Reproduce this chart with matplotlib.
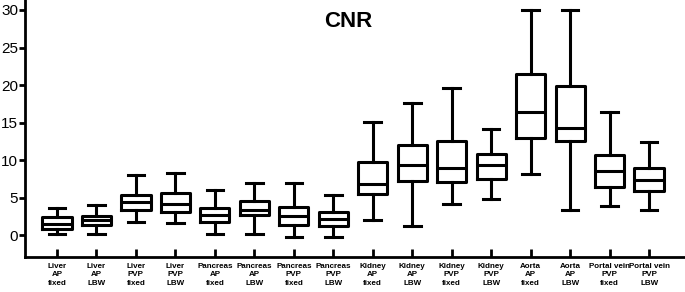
import matplotlib
matplotlib.use("Agg")
from matplotlib import pyplot as plt

plt.rcParams['font.family'] = ['Liberation Sans', 'DejaVu Sans']

labels = [
    "Liver\nAP\nfixed", "Liver\nAP\nLBW", "Liver\nPVP\nfixed", "Liver\nPVP\nLBW",
    "Pancreas\nAP\nfixed", "Pancreas\nAP\nLBW", "Pancreas\nPVP\nfixed", "Pancreas\nPVP\nLBW",
    "Kidney\nAP\nfixed", "Kidney\nAP\nLBW", "Kidney\nPVP\nfixed", "Kidney\nPVP\nLBW",
    "Aorta\nAP\nfixed", "Aorta\nAP\nLBW", "Portal vein\nPVP\nfixed", "Portal vein\nPVP\nLBW",
]
whislo = [0.1, 0.1, 1.7, 1.6, 0.1, 0.2, -0.3, -0.3, 2.0, 1.2, 4.1, 4.8, 8.1, 3.4, 3.9, 3.4]
q1 = [0.8, 1.3, 3.4, 3.1, 1.8, 2.7, 1.3, 1.2, 5.5, 7.2, 7.1, 7.5, 13.0, 12.5, 6.4, 5.9]
med = [1.5, 2.0, 4.4, 4.1, 2.7, 3.4, 2.5, 2.1, 6.8, 9.4, 9.0, 9.3, 16.4, 14.3, 8.6, 7.4]
q3 = [2.4, 2.6, 5.3, 5.6, 3.6, 4.5, 3.8, 3.1, 9.8, 12.0, 12.5, 10.8, 21.5, 19.9, 10.7, 8.9]
whishi = [3.6, 4.0, 8.0, 8.3, 6.0, 7.0, 6.9, 5.4, 15.1, 17.6, 19.6, 14.1, 30.0, 30.0, 16.4, 12.4]

stats = []
for i in range(len(labels)):
    stats.append(dict(whislo=whislo[i], q1=q1[i], med=med[i], q3=q3[i],
                      whishi=whishi[i], fliers=[]))

fig = plt.figure(figsize=(6.85, 2.92), dpi=100)
ax = fig.add_axes([0.0365, 0.12, 0.9635, 0.88])

lw = 2.2
ax.bxp(stats, positions=range(1, 17), widths=0.74, showfliers=False,
       boxprops=dict(color='black', linewidth=lw),
       medianprops=dict(color='black', linewidth=lw),
       whiskerprops=dict(color='black', linewidth=lw),
       capprops=dict(color='black', linewidth=lw),
       capwidths=0.42)

ax.set_xlim(0.19, 16.91)
ax.set_ylim(-2.9, 31.33)
ax.set_yticks([0, 5, 10, 15, 20, 25, 30])
ax.set_xticks(range(1, 17))
ax.set_xticklabels(labels, fontsize=5.8, fontweight='bold', linespacing=1.3)
ax.tick_params(axis='y', direction='out', length=4, width=2, labelsize=11, pad=1)
ax.tick_params(axis='x', direction='in', length=6, width=2, pad=4)
for s in ['top', 'right']:
    ax.spines[s].set_visible(False)
for s in ['left', 'bottom']:
    ax.spines[s].set_linewidth(2)

ax.text(0.49, 0.915, "CNR", transform=ax.transAxes, ha='center', va='center',
        fontsize=16, fontweight='bold')

fig.savefig("out.png", dpi=100)
